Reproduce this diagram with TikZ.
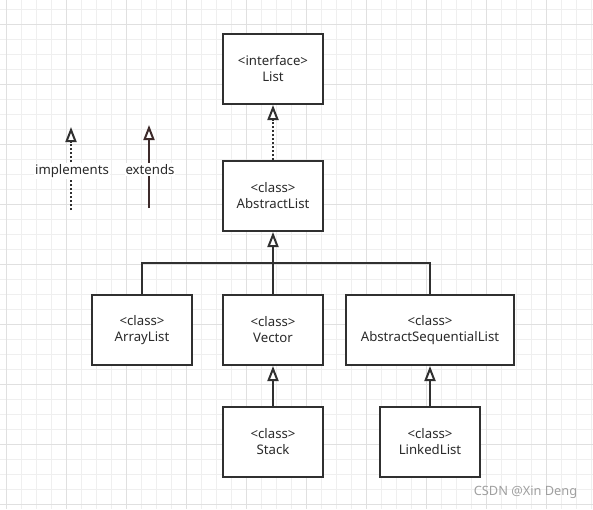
\documentclass[tikz,border=0pt]{standalone}
\usepackage{fontspec}
\setmainfont{Noto Sans}
\usetikzlibrary{arrows.meta}
\definecolor{minorgrid}{HTML}{EFEFEF}
\definecolor{majorgrid}{HTML}{E0E0E0}
\definecolor{ink}{HTML}{303030}
\definecolor{txt}{HTML}{2A2A2A}
\definecolor{extink}{HTML}{3D2A2A}
\definecolor{wm}{HTML}{A0A0A0}
\tikzset{
  cls/.style={draw=ink, line width=2pt, fill=white, minimum width=100pt, minimum height=70pt,
    inner sep=0pt, align=center, text=txt, font=\fontsize{13.2}{16}\selectfont},
  inh/.style={draw=ink, line width=2pt, -{Triangle[fill=white, length=15pt, width=11pt, line width=2pt]}},
  real/.style={inh, dash pattern=on 2pt off 2pt},
  legtxt/.style={fill=white, text=txt, font=\fontsize{13.2}{16}\selectfont, inner sep=1pt},
}
\begin{document}
\begin{tikzpicture}[x=1pt, y=-1pt]
\useasboundingbox (0,0) rectangle (593,509);
\fill[white] (0,0) rectangle (593,509);
% grid
\foreach \k in {0,...,39} { \draw[minorgrid, line width=1pt] (6.5+15*\k,0) -- (6.5+15*\k,509); }
\foreach \k in {0,...,33} { \draw[minorgrid, line width=1pt] (0,9.5+15*\k) -- (593,9.5+15*\k); }
\foreach \k in {0,...,9} { \draw[majorgrid, line width=1pt] (6.5+60*\k,0) -- (6.5+60*\k,509); }
\foreach \k in {0,...,8} { \draw[majorgrid, line width=1pt] (0,24.5+60*\k) -- (593,24.5+60*\k); }

% classes
\node[cls] (list) at (273,69) {<interface>\\List};
\node[cls] (alist) at (273,196) {<class>\\AbstractList};
\node[cls] (arr) at (142,330) {<class>\\ArrayList};
\node[cls] (vec) at (273,330) {<class>\\Vector};
\node[cls, minimum width=168pt] (asl) at (430,330) {<class>\\AbstractSequentialList};
\node[cls] (stack) at (273,442) {<class>\\Stack};
\node[cls] (ll) at (430,442) {<class>\\LinkedList};

% relations
\draw[real] (alist.north) -- (list.south);
\draw[inh] (vec.north) -- (alist.south);
\coordinate (bus) at (273,263);
\draw[draw=ink, line width=2pt] (arr.north) |- (bus) -| (asl.north);
\draw[inh] (stack.north) -- (vec.south);
\draw[inh] (ll.north) -- (asl.south);

% legend
\coordinate (imb) at (71,210);
\coordinate (imt) at (71,127);
\draw[real] (imb) -- (imt);
\node[legtxt] (imtxt) at (72,171) {implements};
\coordinate (exb) at (149,208);
\coordinate (ext) at (149,125);
\draw[inh, draw=extink] (exb) -- (ext);
\node[legtxt] (extxt) at (150,169.5) {extends};

% watermark
\node[text=wm, font=\fontsize{12.8}{14}\selectfont, inner sep=0pt] (wmk) at (525.5,492) {CSDN @Xin Deng};
\end{tikzpicture}
\end{document}
